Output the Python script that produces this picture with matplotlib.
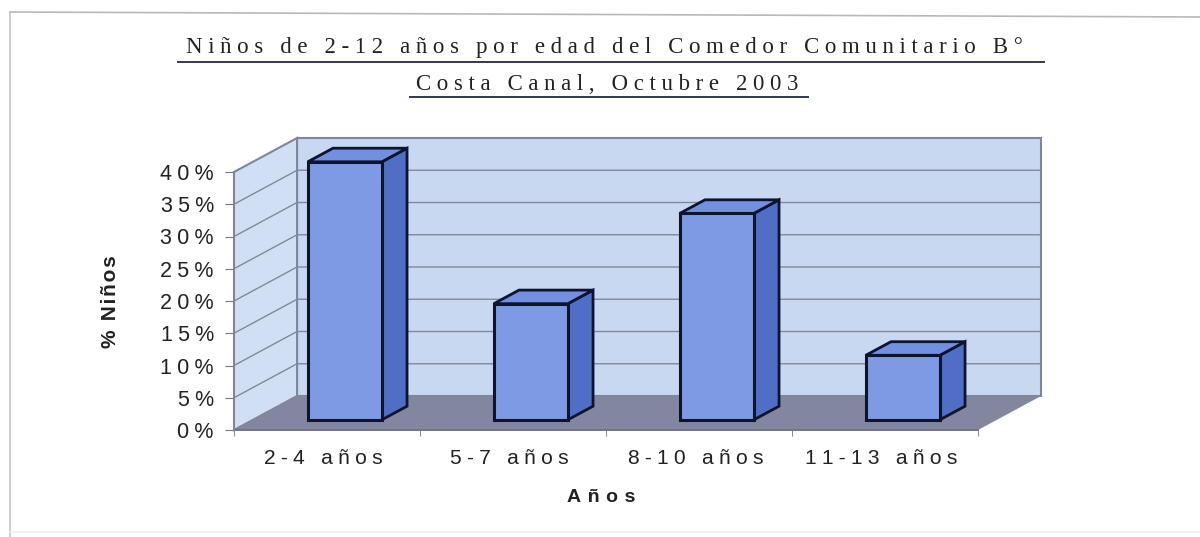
"""Niños de 2-12 años por edad, 3D-style column chart drawn on a flat axes."""
import matplotlib
matplotlib.use('Agg')
import matplotlib.pyplot as plt
from matplotlib.lines import Line2D
from matplotlib.patches import Polygon

# ── Data ─────────────────────────────────────────────────────────────────────
CATEGORIES = ["2-4 años", "5-7 años", "8-10 años", "11-13 años"]
VALUES = [40, 18, 32, 10]
Y_TICKS = [0, 5, 10, 15, 20, 25, 30, 35, 40]
TITLE_LINES = ["Niños de 2-12 años por edad del Comedor Comunitario B°",
               "Costa Canal, Octubre 2003"]
X_LABEL = "Años"
Y_LABEL = "% Niños"

# ── Style ────────────────────────────────────────────────────────────────────
W, H = 1200, 537
FRONT = (234, 430, 978, 172)  # pixel box of the front plane: x0, y0, x1, y1
DX, DY = 0.339, 5.27          # full depth of the box in data units
BAR_W = 0.398
BAR_SHIFT = -0.006
BAR_D0, BAR_D1 = 0.3, 0.7     # bar front/back as a share of the depth
WALL = "#c8d8f0"
SIDE_WALL = "#d0dff3"
FLOOR = "#82869e"
GRID = "#808a98"
EDGE = "#0d1430"
TEXT = "#222222"
HAIR = "\u200a"


def spaced(text, n=2):
    """matplotlib has no letter spacing, so pad with hair spaces."""
    return (HAIR * n).join(text)


def pt(x, y, d=0.0):
    """Front-plane data point pushed back by share d of the depth."""
    return (x + d * DX, y + d * DY)


def face(ax, pts, color, edge=None, lw=0.0, z=1):
    ax.add_patch(Polygon(pts, closed=True, facecolor=color, edgecolor=edge or color,
                         linewidth=lw, clip_on=False, zorder=z, joinstyle="miter"))


def draw_bar(ax, x, value):
    x0, x1 = x - BAR_W / 2, x + BAR_W / 2
    d0, d1 = BAR_D0, BAR_D1
    face(ax, [pt(x1, 0, d0), pt(x1, 0, d1), pt(x1, value, d1), pt(x1, value, d0)],
         "#4f6fc6", EDGE, 2.0, 5)
    face(ax, [pt(x0, value, d0), pt(x1, value, d0), pt(x1, value, d1), pt(x0, value, d1)],
         "#7390e0", EDGE, 2.0, 5)
    face(ax, [pt(x0, 0, d0), pt(x1, 0, d0), pt(x1, value, d0), pt(x0, value, d0)],
         "#7f9ae4", EDGE, 2.2, 6)


fig = plt.figure(figsize=(W / 100, H / 100), dpi=100, facecolor="white")
x0, y0, x1, y1 = FRONT
ax = fig.add_axes([x0 / W, 1 - y0 / H, (x1 - x0) / W, (y0 - y1) / H])
ax.set_xlim(0, len(CATEGORIES))
ax.set_ylim(0, Y_TICKS[-1])
ax.patch.set_visible(False)
for s in ax.spines.values():
    s.set_visible(False)

n = len(CATEGORIES)
top = Y_TICKS[-1]
face(ax, [pt(0, 0, 1), pt(n, 0, 1), pt(n, top, 1), pt(0, top, 1)], WALL, "#7f8699", 1.5, 1)
face(ax, [pt(0, 0, 0), pt(0, 0, 1), pt(0, top, 1), pt(0, top, 0)], SIDE_WALL, "#7f8699", 1.5, 1)
face(ax, [pt(0, 0, 0), pt(n, 0, 0), pt(n, 0, 1), pt(0, 0, 1)], FLOOR, z=2)

# gridlines wrap the side wall and the back wall
for v in Y_TICKS[1:-1]:
    ax.plot(*zip(pt(0, v, 0), pt(0, v, 1), pt(n, v, 1)), color=GRID, lw=1.0,
            clip_on=False, zorder=3)

for i, v in enumerate(VALUES):
    draw_bar(ax, i + 0.5 + BAR_SHIFT, v)

ax.plot([0, n], [0, 0], color="#6f7488", lw=1.4, clip_on=False, zorder=4)
ax.plot([0, 0], [0, top], color="#7f8699", lw=1.4, clip_on=False, zorder=4)

ax.set_yticks(Y_TICKS)
ax.set_yticklabels([spaced(f"{v}%", 3) for v in Y_TICKS],
                   family="Liberation Sans", fontsize=15.5, color=TEXT)
ax.set_xticks(range(n + 1), minor=True)
ax.set_xticks([i + 0.5 for i in range(n)])
# trailing hair spaces nudge the centred labels a little to the left
ax.set_xticklabels([spaced(c, 3) + HAIR * 4 for c in CATEGORIES],
                   family="Liberation Sans", fontsize=15.1, color=TEXT)
ax.tick_params(axis="y", length=6.5, color="#6f7488", pad=8)
ax.tick_params(axis="x", which="major", length=0, pad=14)
ax.tick_params(axis="x", which="minor", length=4, color="#6f7488")

fig.text(601 / W, 1 - 498 / H, spaced(X_LABEL, 4), ha="center", va="center",
         family="Liberation Sans", fontsize=14, fontweight="bold", color=TEXT)
fig.text(111 / W, 1 - 302 / H, spaced(Y_LABEL, 1), ha="center", va="center", rotation=90,
         family="Liberation Sans", fontsize=15, fontweight="bold", color=TEXT)

# title with underlines
fig.text(604 / W, 1 - 48 / H, spaced(TITLE_LINES[0], 3), ha="center", va="center",
         family="Liberation Serif", fontsize=16.5, color=TEXT)
fig.text(607 / W, 1 - 85 / H, spaced(TITLE_LINES[1], 3), ha="center", va="center",
         family="Liberation Serif", fontsize=16.5, color=TEXT)
for xa, xb, y in [(178, 1044, 62), (410, 808, 97)]:
    fig.add_artist(Line2D([xa / W, xb / W], [1 - y / H] * 2, color="#33384a", lw=1.4))

# faint frame of the scanned page
for xs, ys, c in [((10, 1200), (12, 17), "#b8b8b8"), ((10, 10), (12, 537), "#c4c4c4"),
                  ((10, 1200), (532, 532), "#f0f0f0")]:
    fig.add_artist(Line2D([p / W for p in xs], [1 - p / H for p in ys], color=c, lw=1.2))

fig.savefig("out.png", dpi=100)
